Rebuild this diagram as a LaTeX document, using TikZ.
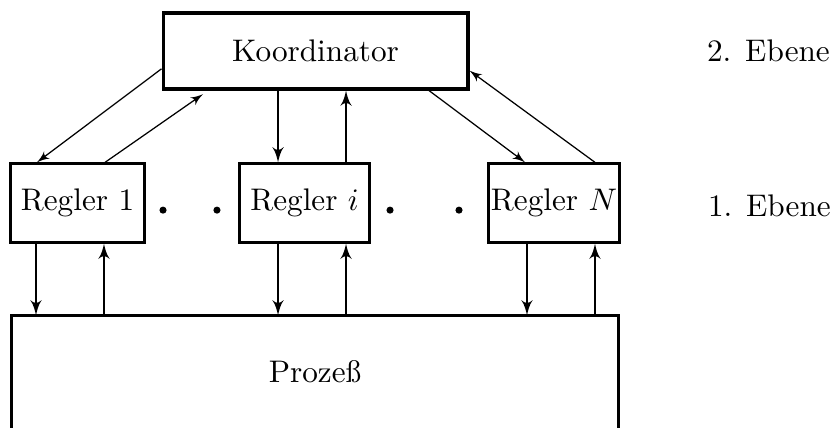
\documentclass[tikz,border=0pt]{standalone}
\usepackage{tikz}
\usetikzlibrary{shapes,arrows}
\tikzstyle{block} = [draw, rectangle, line width=1pt,
    minimum height=0.88cm, minimum width=1.47cm]
\tikzstyle{bullet} = [circle, fill, inner sep=0pt, minimum size=0.08cm]
\tikzstyle{vline} = [->, line width=0.7pt]
\tikzstyle{dline} = [->, line width=0.4pt]

\begin{document}
\begin{tikzpicture}[auto, node distance=2.55cm,>=latex']
\useasboundingbox (-0.872,2.284) rectangle (8.466,-2.52);

% Regler der 1. Ebene
\node [block] (regler1) {Regler 1};
\node [block, right of=regler1, node distance=2.554cm] (regleri) {Regler $i$};
\node [block, right of=regleri, node distance=2.807cm, inner xsep=0.5pt] (reglerN) {Regler $N$};
\node [bullet, right of=regler1, node distance=0.962cm, yshift=-0.08cm] (dot1) {};
\node [bullet, right of=regler1, node distance=1.569cm, yshift=-0.08cm] (dot2) {};
\node [bullet, right of=regleri, node distance=0.962cm, yshift=-0.08cm] (dot3) {};
\node [bullet, right of=regleri, node distance=1.738cm, yshift=-0.08cm] (dot4) {};

% Koordinator und Prozess
\node [block, above of=regleri, node distance=1.71cm, xshift=0.124cm,
    minimum width=3.43cm, minimum height=0.855cm] (koordinator) {Koordinator};
\node [below of=regleri, node distance=1.896cm, xshift=0.118cm,
    minimum width=6.818cm, minimum height=1.25cm] (prozess) {Proze\ss};
\draw [line width=1pt] (prozess.south west) -- (prozess.north west)
    -- (prozess.north east) -- (prozess.south east);

\node [right of=koordinator, node distance=5.096cm] (ebene2) {2. Ebene};
\node [right of=reglerN, node distance=2.424cm, yshift=-0.036cm] (ebene1) {1. Ebene};

% Koordinator <-> Regler
\draw [dline] ([yshift=-0.2cm]koordinator.west) -- ([xshift=-0.456cm]regler1.north);
\draw [dline] ([xshift=0.31cm]regler1.north) -- ([xshift=-1.266cm,yshift=-0.04cm]koordinator.south);
\draw [vline] ([xshift=-0.298cm]regleri.north |- koordinator.south) -- ([xshift=-0.298cm]regleri.north);
\draw [vline] ([xshift=0.467cm]regleri.north) -- ([xshift=0.467cm]regleri.north |- koordinator.south);
\draw [dline] ([xshift=1.277cm]koordinator.south) -- ([xshift=-0.326cm]reglerN.north);
\draw [dline] ([xshift=0.461cm]reglerN.north) -- ([yshift=-0.22cm]koordinator.east);

% Regler <-> Prozess
\draw [vline] ([xshift=-0.467cm]regler1.south) -- ([xshift=-0.467cm]regler1.south |- prozess.north);
\draw [vline] ([xshift=0.298cm]regler1.south |- prozess.north) -- ([xshift=0.298cm]regler1.south);
\draw [vline] ([xshift=-0.298cm]regleri.south) -- ([xshift=-0.298cm]regleri.south |- prozess.north);
\draw [vline] ([xshift=0.467cm]regleri.south |- prozess.north) -- ([xshift=0.467cm]regleri.south);
\draw [vline] ([xshift=-0.304cm]reglerN.south) -- ([xshift=-0.304cm]reglerN.south |- prozess.north);
\draw [vline] ([xshift=0.461cm]reglerN.south |- prozess.north) -- ([xshift=0.461cm]reglerN.south);

\end{tikzpicture}
\end{document}
